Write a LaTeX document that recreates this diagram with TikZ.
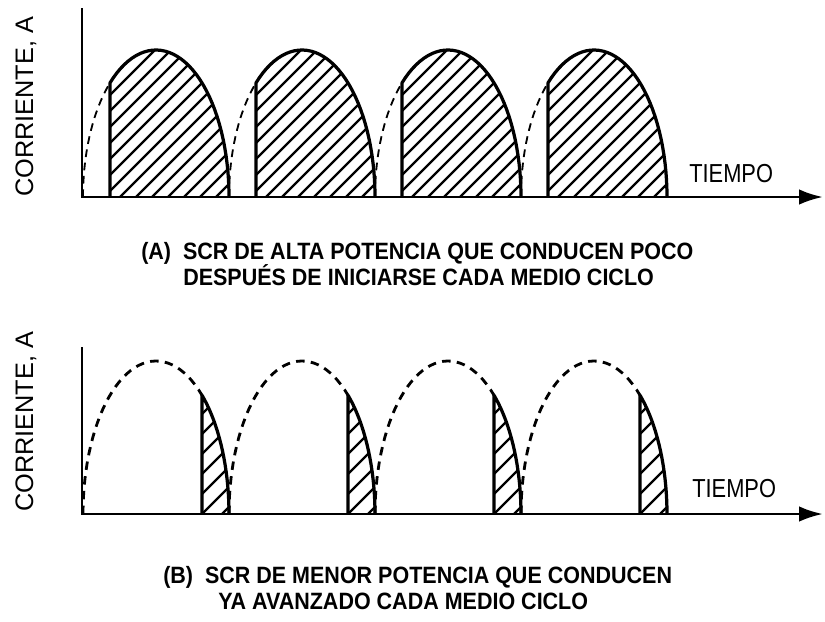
\documentclass[tikz,border=0pt]{standalone}
\usepackage{fontspec}
\setmainfont{Liberation Sans}
\newfontfamily\capfont[FakeStretch=0.91]{Liberation Sans}
\newfontfamily\timefont[FakeStretch=0.84]{Liberation Sans}
\usetikzlibrary{arrows.meta}

\tikzset{
    axis/.style={line width=2pt, -{Latex[length=17pt,width=11pt]}},
    hump/.style={line width=2.3pt, line join=round},
    ghost/.style={line width=1.3pt, dash pattern=on 5.5pt off 4pt},
    ghostB/.style={line width=2pt, dash pattern=on 6pt off 4.5pt},
    hatch/.style={line width=1.6pt},
    ylabel/.style={rotate=90, anchor=base west, inner sep=0pt, font=\fontsize{18}{18}\selectfont},
    tlabel/.style={anchor=base west, inner sep=0pt, font=\timefont\fontsize{18.5}{18.5}\selectfont},
    caption/.style={anchor=base west, inner sep=0pt, font=\capfont\bfseries\fontsize{16.8}{16.8}\selectfont},
}

\begin{document}
\begin{tikzpicture}[x=0.025cm, y=-0.025cm]
    \useasboundingbox (0,0) rectangle (825,621);

    % variables
    \pgfmathsetmacro{\vPeriod}{146}
    \pgfmathsetmacro{\vHalf}{73}
    \pgfmathsetmacro{\vStart}{83}

    % (A) early firing
    \pgfmathsetmacro{\vBaseA}{197}
    \pgfmathsetmacro{\vHeightA}{147}
    \pgfmathsetmacro{\vFireA}{51}

    \coordinate (OA) at (82,\vBaseA);
    \coordinate (YA) at (82,8);
    \coordinate (XA) at (823,\vBaseA);

    \foreach \i in {0,...,3} {
        \pgfmathsetmacro{\vC}{\vStart+\i*\vPeriod+\vHalf}
        \pgfmathsetmacro{\vF}{\vC-\vHalf*cos(\vFireA)}
        \coordinate (fa\i) at (\vF,\vBaseA);
        \draw[ghost] plot[domain=0:\vFireA, samples=20] ({\vC-\vHalf*cos(\x)},{\vBaseA-\vHeightA*sin(\x)});
        \begin{scope}
            \clip (fa\i) -- plot[domain=\vFireA:180, samples=40] ({\vC-\vHalf*cos(\x)},{\vBaseA-\vHeightA*sin(\x)}) -- cycle;
            \foreach \k in {0,...,18}
                \draw[hatch] (\vF+\k*16-150,\vBaseA) -- ++(200,-200);
        \end{scope}
        \draw[hump] (fa\i) -- plot[domain=\vFireA:180, samples=40] ({\vC-\vHalf*cos(\x)},{\vBaseA-\vHeightA*sin(\x)});
    }

    \draw[axis] (YA) -- (OA) -- (XA);

    \node[ylabel] (curA) at (33,197) {CORRIENTE, A};
    \node[tlabel] (timeA) at (689,182) {TIEMPO};
    \node[caption] (capA1) at (141,259) {(A)\ \ SCR DE ALTA POTENCIA QUE CONDUCEN POCO};
    \node[caption] (capA2) at (183,285) {DESPUÉS DE INICIARSE CADA MEDIO CICLO};

    % (B) late firing
    \pgfmathsetmacro{\vBaseB}{514}
    \pgfmathsetmacro{\vHeightB}{153}
    \pgfmathsetmacro{\vFireB}{129}

    \coordinate (OB) at (82,\vBaseB);
    \coordinate (YB) at (82,347);
    \coordinate (XB) at (823,\vBaseB);

    \foreach \i in {0,...,3} {
        \pgfmathsetmacro{\vC}{\vStart+\i*\vPeriod+\vHalf}
        \pgfmathsetmacro{\vF}{\vC-\vHalf*cos(\vFireB)}
        \coordinate (fb\i) at (\vF,\vBaseB);
        \draw[ghostB] plot[domain=0:\vFireB, samples=40] ({\vC-\vHalf*cos(\x)},{\vBaseB-\vHeightB*sin(\x)});
        \begin{scope}
            \clip (fb\i) -- plot[domain=\vFireB:180, samples=20] ({\vC-\vHalf*cos(\x)},{\vBaseB-\vHeightB*sin(\x)}) -- cycle;
            \foreach \k in {0,...,10}
                \draw[hatch] (\vF+\k*20-160,\vBaseB) -- ++(200,-200);
        \end{scope}
        \draw[hump] (fb\i) -- plot[domain=\vFireB:180, samples=20] ({\vC-\vHalf*cos(\x)},{\vBaseB-\vHeightB*sin(\x)});
    }

    \draw[axis] (YB) -- (OB) -- (XB);

    \node[ylabel] (curB) at (33,512) {CORRIENTE, A};
    \node[tlabel] (timeB) at (692,497) {TIEMPO};
    \node[caption] (capB1) at (163,583) {(B)\ \ SCR DE MENOR POTENCIA QUE CONDUCEN};
    \node[caption] (capB2) at (218,609) {YA AVANZADO CADA MEDIO CICLO};
\end{tikzpicture}
\end{document}
